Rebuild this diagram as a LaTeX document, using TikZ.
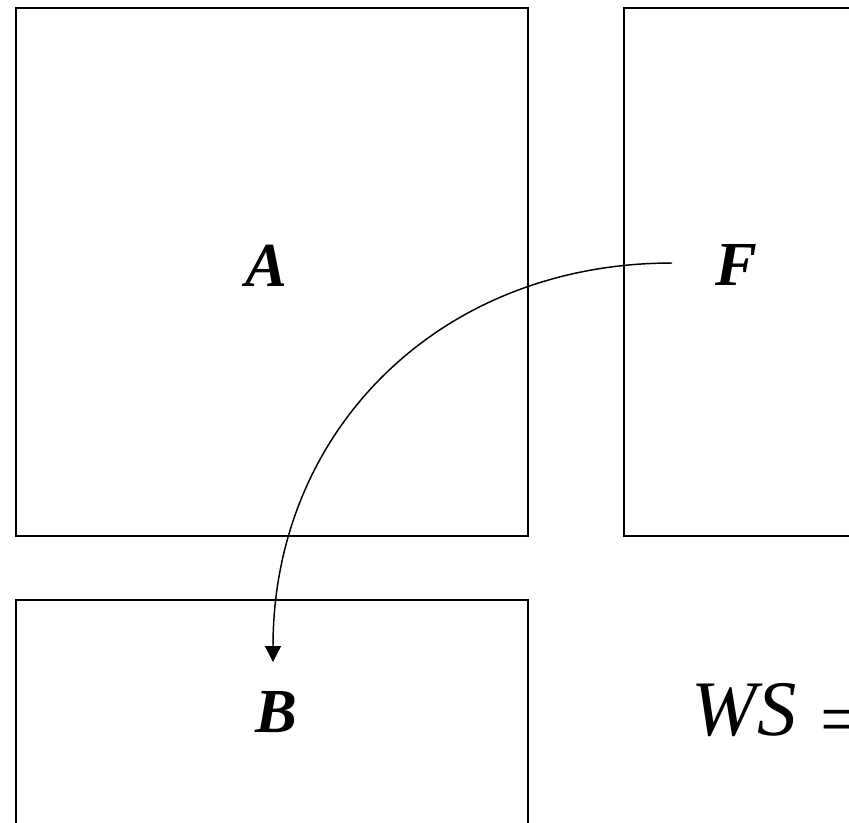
\documentclass[tikz,border=0pt]{standalone}
\usepackage{fontspec}
\setmainfont{Liberation Serif}
\usetikzlibrary{arrows.meta}
\tikzset{
  box/.style={draw=black, line width=1.5pt},
  biglabel/.style={font=\fontsize{47}{47}\selectfont\bfseries\itshape, inner sep=0pt, anchor=base},
  eqlabel/.style={font=\fontsize{59}{59}\selectfont\itshape, inner sep=0pt, anchor=base},
  conn/.style={line width=1.1pt, -{Triangle[length=12pt,width=12pt]}}
}
\begin{document}
\begin{tikzpicture}[x=0.75pt,y=-0.75pt]
\useasboundingbox (0,0) rectangle (849,822);
\clip (0,0) rectangle (849,822);
\fill[white] (0,0) rectangle (849,822);
% boxes
\draw[box] (16,8) rectangle (528,536);
\draw[box] (624,8) rectangle (920,536);
\draw[box] (16,600) rectangle (528,900);
% labels
\node[biglabel] (A) at (266,286) {A};
\node[biglabel] (F) at (736,285) {F};
\node[biglabel] (B) at (276,732) {B};
\node[eqlabel] (WS) at (744,735) {WS};
\node[font=\fontsize{56}{56}\selectfont, inner sep=0pt, anchor=west] (eq) at (820,727) {=};
% connector
\coordinate (fstart) at (672,263);
\coordinate (bend) at (273,662);
\draw[conn] (fstart) .. controls (440,263) and (273,430) .. (bend);
\end{tikzpicture}
\end{document}
